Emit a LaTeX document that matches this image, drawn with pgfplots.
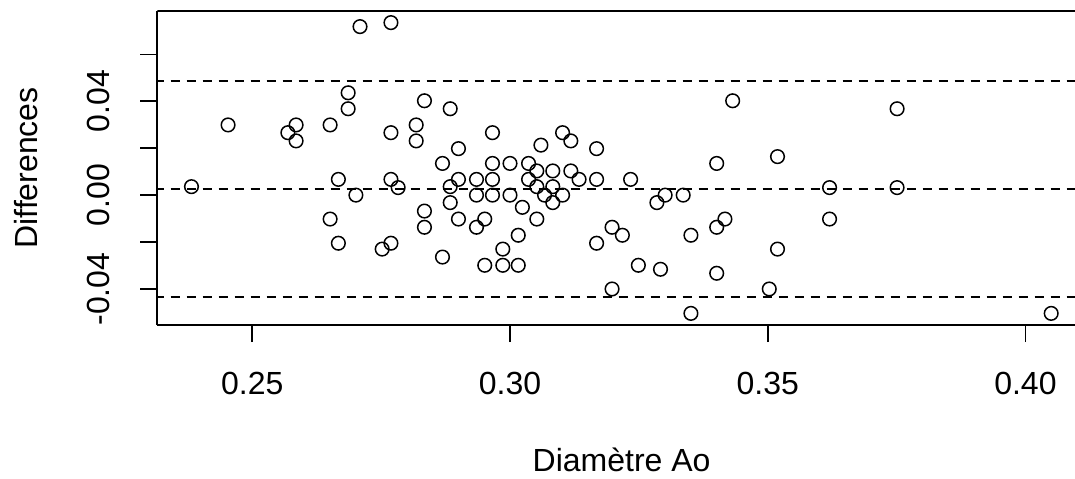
\documentclass[border=0pt]{standalone}
\usepackage{pgfplots}
\pgfplotsset{compat=1.18}
\usepackage{fontspec}
\setmainfont{Liberation Sans}
\begin{document}
\begin{tikzpicture}
\begin{axis}[
  at={(0,0)}, anchor=south west,
  scale only axis, width=458.85pt, height=157.15pt,
  xmin=0.23157, xmax=0.40962, ymin=-0.05535, ymax=0.07857,
  axis x line*=bottom, axis y line*=left,
  axis line style={line width=0.8pt, black},
  tick align=outside, major tick length=8.5pt,
  tick style={line width=0.8pt, black},
  scaled y ticks=false, scaled x ticks=false,
  xtick={0.25,0.30,0.35,0.40},
  xticklabels={0.25,0.30,0.35,0.40},
  ytick={-0.04,-0.02,0,0.02,0.04,0.06},
  yticklabels={-0.04,,0.00,,0.04,},
  /pgf/number format/assume math mode=true,
  xticklabel style={font=\fontsize{16}{19}\selectfont, anchor=base, inner sep=0pt},
  yticklabel style={font=\fontsize{16}{19}\selectfont, rotate=90, anchor=base, inner sep=0pt},
  xticklabel shift=26pt,
  yticklabel shift=15.15pt,
  xlabel={Diamètre Ao},
  ylabel={Differences},
  xlabel style={font=\fontsize{16}{19}\selectfont, at={(axis description cs:0.506,-0.4668)}, anchor=base, inner sep=0pt},
  ylabel style={font=\fontsize{16}{19}\selectfont, at={(axis description cs:-0.1431,0.5)}, anchor=center, inner sep=0pt},
  clip=true,
]
\addplot[only marks, mark=o, mark size=3.4pt, mark options={line width=0.75pt, black}] coordinates {
(0.2709,0.0718) (0.2769,0.0735) (0.2686,0.0436) (0.2686,0.0368) (0.2834,0.0402)
(0.2884,0.0368) (0.2453,0.0299) (0.2585,0.0299) (0.2569,0.0266) (0.2585,0.0231)
(0.2651,0.0299) (0.2769,0.0266) (0.2818,0.0299) (0.2818,0.0231) (0.2900,0.0198)
(0.2869,0.0135) (0.2382,0.0036) (0.2667,0.0067) (0.2769,0.0067) (0.2783,0.0032)
(0.2701,0.0000) (0.2884,0.0036) (0.2900,0.0067) (0.2884,-0.0032) (0.2651,-0.0102)
(0.2834,-0.0068) (0.2834,-0.0137) (0.2900,-0.0102) (0.2667,-0.0205) (0.2769,-0.0205)
(0.2752,-0.0230) (0.2869,-0.0264) (0.3432,0.0402) (0.2966,0.0266) (0.3102,0.0266)
(0.3118,0.0231) (0.3060,0.0213) (0.3168,0.0198) (0.2966,0.0135) (0.3000,0.0135)
(0.3036,0.0135) (0.3052,0.0103) (0.3083,0.0103) (0.3118,0.0103) (0.3134,0.0067)
(0.3168,0.0067) (0.3234,0.0067) (0.3401,0.0135) (0.2935,0.0067) (0.2966,0.0067)
(0.3036,0.0067) (0.3052,0.0036) (0.3083,0.0036) (0.2935,0.0000) (0.2966,0.0000)
(0.3000,0.0000) (0.3067,0.0000) (0.3102,0.0000) (0.3083,-0.0032) (0.3024,-0.0052)
(0.3052,-0.0102) (0.2951,-0.0102) (0.2935,-0.0137) (0.3016,-0.0171) (0.2986,-0.0230)
(0.2951,-0.0299) (0.2986,-0.0299) (0.3016,-0.0299) (0.3168,-0.0205) (0.3198,-0.0137)
(0.3218,-0.0171) (0.3198,-0.0400) (0.3249,-0.0299) (0.3292,-0.0316) (0.3301,0.0000)
(0.3285,-0.0032) (0.3336,0.0000) (0.3351,-0.0171) (0.3351,-0.0504) (0.3401,-0.0137)
(0.3417,-0.0102) (0.3401,-0.0333) (0.3751,0.0368) (0.3519,0.0164) (0.3620,0.0032)
(0.3751,0.0032) (0.3620,-0.0102) (0.3519,-0.0230) (0.3503,-0.0400) (0.4050,-0.0504)
};
\addplot[black, line width=0.95pt, dash pattern=on 4.75pt off 3.25pt] coordinates {(0.2,0.0487) (0.45,0.0487)};
\addplot[black, line width=0.95pt, dash pattern=on 4.75pt off 3.25pt] coordinates {(0.2,0.0026) (0.45,0.0026)};
\addplot[black, line width=0.95pt, dash pattern=on 4.75pt off 3.25pt] coordinates {(0.2,-0.0433) (0.45,-0.0433)};
\draw[line width=0.8pt, black] (rel axis cs:0,1) -- (rel axis cs:1,1);
\end{axis}
\pgfresetboundingbox
\path (-78.65pt,-76.5pt) rectangle (458.85pt,162.5pt);
\end{tikzpicture}
\end{document}
